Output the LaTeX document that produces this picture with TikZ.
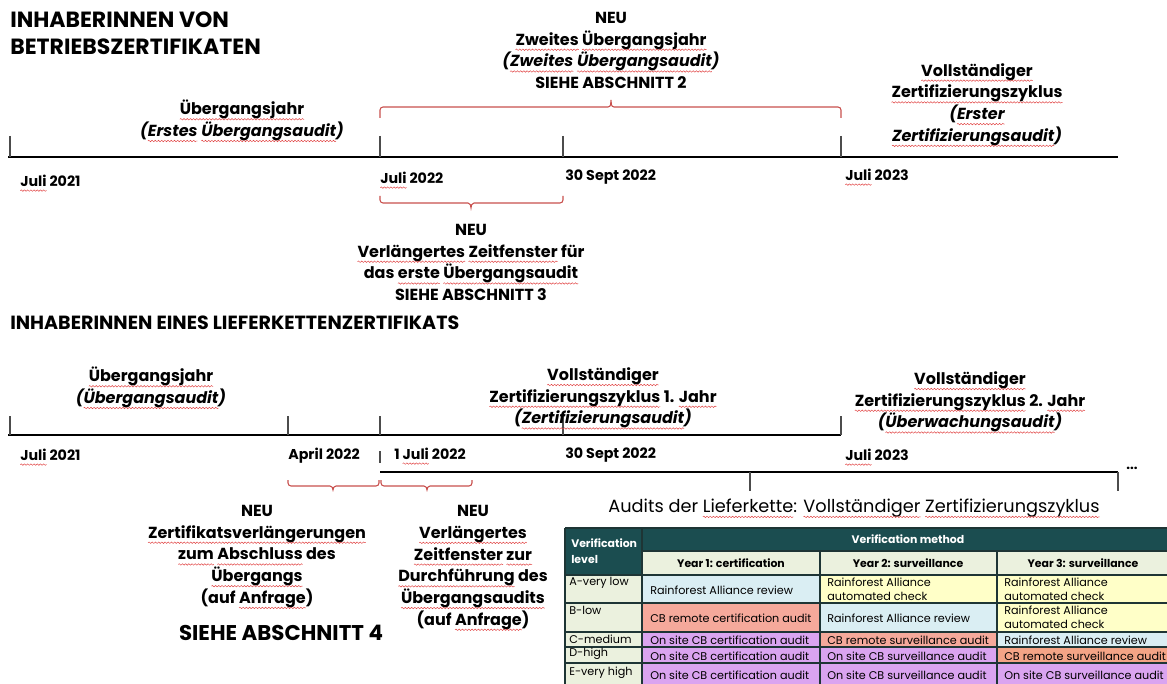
\documentclass[tikz,border=0pt]{standalone}
\usepackage{fontspec}
\setmainfont{Poppins}
\usetikzlibrary{decorations.pathmorphing}
\definecolor{wavered}{HTML}{E04040}
\definecolor{bracered}{HTML}{C8504D}
\definecolor{hdr}{HTML}{1B4D50}
\definecolor{lgreen}{HTML}{EBF1DE}
\definecolor{cblue}{HTML}{DAEEF3}
\definecolor{cyel}{HTML}{FFFFC8}
\definecolor{csal}{HTML}{F5A99B}
\definecolor{cpur}{HTML}{DAA4F0}
\definecolor{corg}{HTML}{F4A486}
\definecolor{grid}{HTML}{1E3535}
\newsavebox\sqbox
\newlength\sqlen
\newcommand\sq[1]{\sbox\sqbox{#1}\setlength\sqlen{\wd\sqbox}\rlap{\usebox\sqbox}%
  \tikz[baseline=0pt]{\useasboundingbox (0pt,0pt) rectangle (\sqlen,-1pt);
  \draw[wavered,line width=0.35pt,decorate,decoration={snake,amplitude=0.55pt,segment length=2.4pt}] (0pt,-3.4pt) -- (\sqlen,-3.4pt);}}
\begin{document}
\begin{tikzpicture}[x=0.75pt,y=-0.75pt,
  tline/.style={line width=1.5pt,black},
  tick/.style={line width=0.8pt,black!70},
  brc/.style={draw=bracered,line width=0.8pt},
  lbl/.style={font=\fontsize{12}{16.3}\selectfont\bfseries,align=center,inner sep=0pt},
  date/.style={font=\fontsize{10.7}{12}\selectfont\bfseries,anchor=west,inner sep=0pt},
  ttl/.style={font=\fontsize{16.5}{20}\selectfont\bfseries,anchor=west,align=left,inner sep=0pt},
  tt/.style={font=\fontsize{8.4}{10.2}\selectfont,anchor=west,align=left,inner sep=0pt},
  th/.style={font=\fontsize{8.2}{12.5}\selectfont\bfseries,inner sep=0pt,align=left}]
\useasboundingbox (0,0) rectangle (1167,684);

% ---------- Section 1 ----------
\node[ttl] (title1) at (10,33.5) {INHABERINNEN VON\\BETRIEBSZERTIFIKATEN};

\coordinate (t1a) at (8,157); \coordinate (t1b) at (1118,157);
\draw[tline] (t1a) -- (t1b);
\foreach \x in {10,380,563,841} \draw[tick] (\x,136) -- (\x,157);

\node[date] (d11) at (20,181) {\sq{Juli} 2021};
\node[date] (d12) at (380,178) {\sq{Juli} 2022};
\node[date] (d13) at (565,177) {30 Sept 2022};
\node[date] (d14) at (845,175) {\sq{Juli} 2023};

\node[lbl] (s1a) at (242,120.5) {\sq{Übergangsjahr}\\{\itshape(\sq{Erstes} \sq{Übergangsaudit})}};
\node[lbl] (s1b) at (611,50.5) {NEU\\\sq{Zweites} \sq{Übergangsjahr}\\{\itshape(\sq{Zweites} \sq{Übergangsaudit})}\\SIEHE ABSCHNITT 2};
\node[lbl] (s1c) at (977,104.5) {\sq{Vollständiger}\\\sq{Zertifizierungszyklus}\\{\itshape(\sq{Erster}}\\{\itshape\sq{Zertifizierungsaudit})}};
\node[lbl] (s1d) at (471,262.5) {NEU\\\sq{Verlängertes} \sq{Zeitfenster} für\\das \sq{erste} \sq{Übergangsaudit}\\SIEHE ABSCHNITT 3};

\draw[brc] (380,118) -- (380,110) to[out=90,in=180] (383,107) -- (608,107)
  to[out=0,in=-90] (611,100) to[out=-90,in=180] (614,107) -- (838,107)
  to[out=0,in=90] (841,110) -- (841,118);
\draw[brc] (380,196) -- (380,200) to[out=-90,in=180] (383,203) -- (468,203)
  to[out=0,in=90] (471,208) to[out=90,in=180] (474,203) -- (560,203)
  to[out=0,in=-90] (563,200) -- (563,196);

% ---------- Section 2 ----------
\node[ttl,font=\fontsize{14.3}{18}\selectfont\bfseries] (title2) at (10,323) {INHABERINNEN EINES LIEFERKETTENZERTIFIKATS};

\coordinate (t2a) at (8,435); \coordinate (t2b) at (841,435);
\draw[tline] (t2a) -- (t2b);
\foreach \x in {10,288,380,563,841} \draw[tick] (\x,416) -- (\x,435);

\coordinate (t3a) at (380,472); \coordinate (t3b) at (1118,472);
\draw[tick] (380,451) -- (380,463);
\draw[tline] (t3a) -- (t3b);
\foreach \x in {750,1118} \draw[tick] (\x,472) -- (\x,491);
\node[font=\fontsize{10}{12}\selectfont\bfseries,inner sep=0pt] (dots) at (1132,468) {...};

\node[date] (d21) at (20,455) {\sq{Juli} 2021};
\node[date] (d22) at (288,456) {April 2022};
\node[date] (d23) at (394,454) {1 \sq{Juli} 2022};
\node[date] (d24) at (565,455) {30 Sept 2022};
\node[date] (d25) at (845,455) {\sq{Juli} 2023};

\node[lbl] (s2a) at (151,387.5) {\sq{Übergangsjahr}\\{\itshape(\sq{Übergangsaudit})}};
\node[lbl] (s2b) at (603,398) {\sq{Vollständiger}\\\sq{Zertifizierungszyklus} 1. \sq{Jahr}\\{\itshape(\sq{Zertifizierungsaudit})}};
\node[lbl] (s2c) at (970,402) {\sq{Vollständiger}\\\sq{Zertifizierungszyklus} 2. \sq{Jahr}\\{\itshape(\sq{Überwachungsaudit})}};

\draw[brc] (288,480) -- (288,483) to[out=-90,in=180] (291,486) -- (330,486)
  to[out=0,in=90] (333,490) to[out=90,in=180] (336,486) -- (376,486)
  to[out=0,in=-90] (379,483) -- (379,480);
\draw[brc] (381,480) -- (381,483) to[out=-90,in=180] (384,486) -- (424,486)
  to[out=0,in=90] (427,490) to[out=90,in=180] (430,486) -- (469,486)
  to[out=0,in=-90] (472,483) -- (472,480);

\node[lbl] (s2d) at (257,556.5) {NEU\\\sq{Zertifikatsverlängerungen}\\\sq{zum} \sq{Abschluss} des\\\sq{Übergangs}\\(auf \sq{Anfrage})};
\node[lbl,font=\fontsize{16}{18}\selectfont\bfseries] (s2e) at (281,633) {SIEHE ABSCHNITT 4};
\node[lbl] (s2f) at (473,567.5) {NEU\\\sq{Verlängertes}\\\sq{Zeitfenster} \sq{zur}\\\sq{Durchführung} des\\\sq{Übergangsaudits}\\(auf \sq{Anfrage})};

% ---------- Table ----------
\node[font=\fontsize{13.3}{15}\selectfont,inner sep=0pt] (tabtitle) at (854,508) {Audits der \sq{Lieferkette}: \sq{Vollständiger} \sq{Zertifizierungszyklus}};

\fill[hdr] (565,528) rectangle (1175,551);
\fill[hdr] (565,551) rectangle (642,575);
\fill[lgreen] (642,551) rectangle (1175,575);
\fill[lgreen] (565,575) rectangle (642,690);
\fill[cblue] (642,575) rectangle (820,603);
\fill[cyel] (820,575) rectangle (1175,603);
\fill[csal] (642,603) rectangle (820,632);
\fill[cblue] (820,603) rectangle (997,632);
\fill[cyel] (997,603) rectangle (1175,632);
\fill[cpur] (642,632) rectangle (820,647);
\fill[csal] (820,632) rectangle (997,647);
\fill[cblue] (997,632) rectangle (1175,647);
\fill[cpur] (642,647) rectangle (997,663);
\fill[corg] (997,647) rectangle (1175,663);
\fill[cpur] (642,663) rectangle (1175,690);

\begin{scope}[draw=grid,line width=0.9pt]
\draw (565,528) -- (1175,528);
\draw (642,551) -- (1175,551);
\foreach \y in {575,603,632,647,663} \draw (565,\y) -- (1175,\y);
\draw (565,528) -- (565,690);
\draw (642,528) -- (642,690);
\draw (820,551) -- (820,690);
\draw (997,551) -- (997,690);
\end{scope}

\node[th,text=white,anchor=west] (hlevel) at (571,551) {Verification\\level};
\node[th,text=white] (hmeth) at (908,539.5) {Verification method};
\node[th] (hy1) at (731,563) {Year 1: certification};
\node[th] (hy2) at (908,563) {Year 2: surveillance};
\node[th] (hy3) at (1083,563) {Year 3: surveillance};

\node[tt] (la) at (569,583) {A-very low};
\node[tt] (lb) at (569,610) {B-low};
\node[tt] (lc) at (569,639.5) {C-medium};
\node[tt] (ld) at (569,654) {D-high};
\node[tt] (le) at (569,673) {E-very high};

\node[tt] (a1) at (650,590) {Rainforest Alliance review};
\node[tt] (a2) at (827,589) {Rainforest Alliance\\automated check};
\node[tt] (a3) at (1004,589) {Rainforest Alliance\\automated check};
\node[tt] (b1) at (650,618) {CB remote certification audit};
\node[tt] (b2) at (827,618) {Rainforest Alliance review};
\node[tt] (b3) at (1004,617) {Rainforest Alliance\\automated check};
\node[tt] (c1) at (650,640) {On site CB certification audit};
\node[tt] (c2) at (827,640) {CB remote surveillance audit};
\node[tt] (c3) at (1004,640) {Rainforest Alliance review};
\node[tt] (d1) at (650,656) {On site CB certification audit};
\node[tt] (d2) at (827,656) {On site CB surveillance audit};
\node[tt] (d3) at (1004,656) {CB remote surveillance audit};
\node[tt] (e1) at (650,675) {On site CB certification audit};
\node[tt] (e2) at (827,675) {On site CB surveillance audit};
\node[tt] (e3) at (1004,675) {On site CB surveillance audit};
\end{tikzpicture}
\end{document}
